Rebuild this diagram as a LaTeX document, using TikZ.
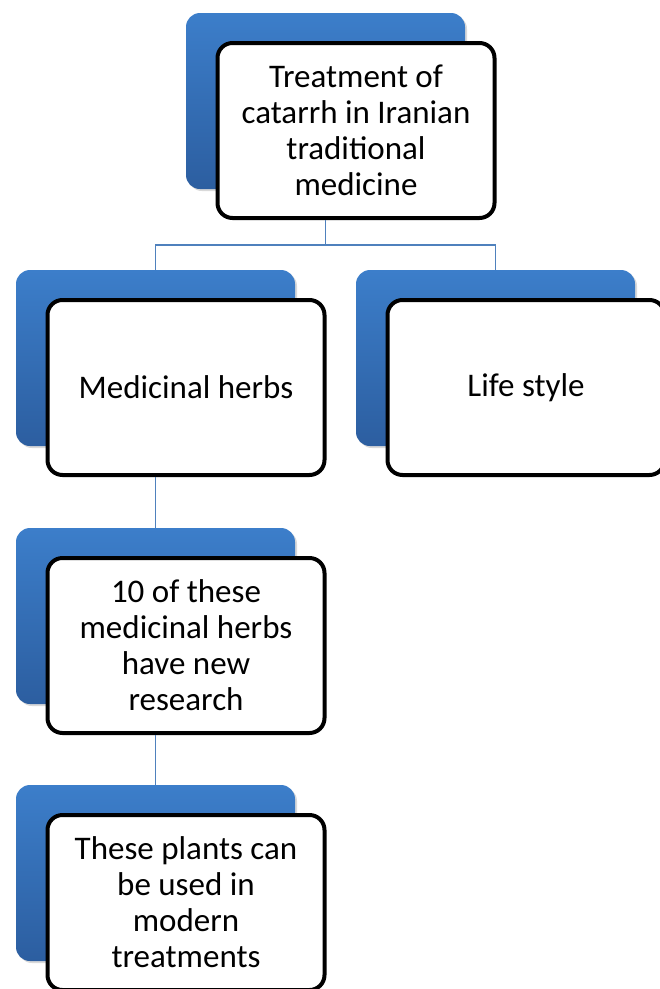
\documentclass[tikz,border=0pt]{standalone}
\usepackage{fontspec}
\setmainfont{Carlito}
\usetikzlibrary{shadows}
\definecolor{backblue}{RGB}{60,126,202}
\definecolor{backdark}{RGB}{44,94,160}
\definecolor{linkblue}{RGB}{79,129,189}

\begin{document}
\begin{tikzpicture}[x=1pt,y=-1pt,
		back/.style={rounded corners=14pt,minimum width=279pt,minimum height=176pt,top color=backblue,bottom color=backdark,drop shadow={opacity=.3,shadow xshift=2pt,shadow yshift=-2pt}},
		front/.style={draw,line width=4pt,rounded corners=15pt,fill=white,minimum width=277pt,minimum height=175pt,align=center,font=\fontsize{33}{36}\selectfont},
		link/.style={draw=linkblue,line width=1.5pt}]
		\useasboundingbox (0,0) rectangle (660,989);
		% back panels
		\node[back] (topback) at (325.5,101){};
		\node[back] (herbsback) at (155.5,358){};
		\node[back] (lifeback) at (495.5,358){};
		\node[back] (researchback) at (155.5,616){};
		\node[back] (plantsback) at (155.5,873){};
		% front boxes
		\node[front] (top) at (356,130.5){Treatment of\\catarrh in Iranian\\traditional\\medicine};
		\node[front] (herbs) at (186,387.5){Medicinal herbs};
		\node[front] (life) at (526,387.5){Life style};
		\node[front] (research) at (186,645.5){10 of these\\medicinal herbs\\have new\\research};
		\node[front] (plants) at (186,902.5){These plants can\\be used in\\modern\\treatments};
		% connectors
		\coordinate (fork) at (325.5,245);
		\draw[link] (topback |- top.south)--(fork)-|(herbsback.north);
		\draw[link] (fork)-|(lifeback.north);
		\draw[link] (herbsback |- herbs.south)--(researchback.north);
		\draw[link] (researchback |- research.south)--(plantsback.north);
	\end{tikzpicture}
\end{document}
